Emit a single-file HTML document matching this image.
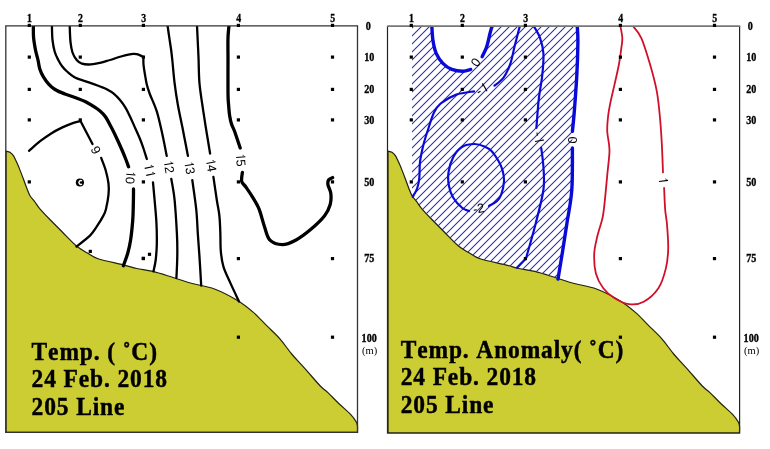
<!DOCTYPE html><html><head><meta charset="utf-8"><style>html,body{margin:0;padding:0;background:#fff;width:770px;height:449px;overflow:hidden}svg{display:block;will-change:transform}text{font-kerning:none}</style></head><body>
<svg width="770" height="449" viewBox="0 0 770 449">
<defs><pattern id="h" patternUnits="userSpaceOnUse" width="8" height="8"><path d="M-2,2 L2,-2 M0,8 L8,0 M6,10 L10,6" stroke="#2a2ab4" stroke-width="1.05"/></pattern><clipPath id="cl"><rect x="6" y="26" width="351.6" height="406"/></clipPath><clipPath id="cr"><rect x="388" y="26" width="351.6" height="406"/></clipPath></defs>
<path d="M6.0,151.2 C6.7,151.4 8.8,151.6 10.0,152.3 C11.2,153.1 12.3,154.0 13.4,155.7 C14.5,157.4 15.6,159.9 16.7,162.3 C17.8,164.7 18.9,167.3 20.0,170.1 C21.1,172.9 22.3,176.0 23.4,179.0 C24.5,182.0 25.6,185.2 26.7,188.0 C27.8,190.8 28.7,193.5 30.0,195.7 C31.3,197.9 32.8,199.1 34.5,201.3 C36.2,203.5 37.5,206.1 40.1,209.1 C42.7,212.1 46.2,215.7 49.9,219.5 C53.6,223.3 57.9,227.6 62.3,232.0 C66.7,236.4 72.3,242.5 76.5,246.0 C80.7,249.5 83.8,250.9 87.4,253.0 C91.0,255.1 92.0,256.8 98.0,258.8 C104.0,260.8 116.9,263.2 123.4,264.8 C129.9,266.4 131.9,267.4 136.8,268.5 C141.7,269.6 146.6,269.8 152.9,271.4 C159.2,273.0 168.0,276.0 174.6,278.0 C181.2,280.0 185.7,281.7 192.3,283.5 C199.0,285.3 207.0,286.2 214.5,289.0 C222.0,291.8 231.0,296.6 237.5,300.5 C244.0,304.4 248.5,308.2 253.4,312.4 C258.3,316.6 262.2,321.2 266.7,325.7 C271.1,330.1 275.9,334.3 280.1,339.1 C284.3,343.9 287.9,349.5 292.1,354.5 C296.3,359.5 300.5,363.6 305.2,368.9 C309.9,374.1 316.5,382.1 320.3,386.0 C324.1,389.9 324.7,389.6 327.9,392.6 C331.1,395.6 335.5,400.4 339.3,404.0 C343.1,407.6 347.8,411.4 350.6,414.4 C353.4,417.4 355.1,419.9 356.3,422.0 C357.5,424.1 357.4,426.2 357.6,427.0 L357.5,432.4 L6.0,432.4 Z" fill="#cccc33" stroke="#202010" stroke-width="1.2"/>
<path d="M29.0,150.8 C30.9,149.2 36.4,144.1 40.1,141.2 C43.8,138.3 47.5,135.7 51.2,133.4 C54.9,131.1 58.7,129.2 62.4,127.4 C66.1,125.7 70.5,124.0 73.5,122.9 C76.5,121.9 79.3,121.4 80.5,121.1 M80.5,121.0 L92.5,144.0 M101.2,157.9 C101.9,159.9 104.4,165.7 105.6,170.0 C106.8,174.3 108.0,179.4 108.5,183.5 C109.0,187.6 108.9,190.3 108.5,194.6 C108.1,198.8 106.8,205.5 106.0,209.0 C105.2,212.5 105.0,212.7 103.4,215.6 C101.9,218.5 98.9,223.4 96.7,226.7 C94.5,230.0 93.4,232.3 90.0,235.6 C86.6,238.9 78.8,244.7 76.5,246.5" fill="none" stroke="#000" stroke-width="2.3" stroke-linecap="round" stroke-linejoin="round" clip-path="url(#cl)"/>
<path d="M33.4,25.4 C33.4,27.5 33.2,33.7 33.6,37.8 C34.0,41.9 34.8,46.3 35.5,50.0 C36.2,53.7 37.3,56.9 38.0,60.0 C38.7,63.1 38.9,66.1 39.8,68.9 C40.7,71.7 41.9,74.4 43.4,76.9 C44.9,79.4 46.8,82.0 48.7,84.1 C50.6,86.2 52.3,87.8 55.0,89.5 C57.7,91.2 61.7,92.7 65.0,94.0 C68.3,95.3 71.7,96.2 75.0,97.5 C78.3,98.8 82.3,100.2 85.1,101.5 C87.9,102.8 89.5,103.9 92.0,105.5 C94.5,107.1 97.7,109.1 100.0,111.0 C102.3,112.9 103.6,114.0 105.6,117.0 C107.6,120.0 110.2,125.2 112.2,129.0 C114.2,132.8 115.9,136.5 117.5,140.0 C119.1,143.5 120.6,146.8 122.0,150.0 C123.4,153.2 124.6,156.2 125.7,159.0 C126.8,161.8 128.1,165.5 128.6,166.8 M133.5,189.0 C133.5,191.7 133.5,199.5 133.3,205.0 C133.2,210.5 133.1,216.2 132.6,222.0 C132.1,227.8 131.4,234.8 130.6,240.0 C129.8,245.2 129.0,248.7 127.8,253.0 C126.6,257.3 124.1,263.6 123.4,265.7" fill="none" stroke="#000" stroke-width="3.3" stroke-linecap="round" stroke-linejoin="round" clip-path="url(#cl)"/>
<path d="M51.9,25.4 C52.0,27.8 52.0,35.6 52.5,40.0 C53.0,44.4 53.8,48.7 54.8,52.0 C55.8,55.3 57.1,57.6 58.3,60.0 C59.5,62.4 60.6,64.3 62.1,66.2 C63.6,68.1 64.9,69.7 67.0,71.5 C69.1,73.3 71.8,75.8 74.5,77.3 C77.2,78.8 80.4,79.5 83.4,80.6 C86.4,81.6 89.5,82.6 92.3,83.6 C95.1,84.6 97.6,85.6 100.0,86.5 C102.4,87.4 104.5,88.0 106.7,89.2 C108.9,90.4 111.2,91.6 113.4,93.4 C115.6,95.2 118.0,97.6 120.0,100.0 C122.0,102.4 123.9,105.0 125.6,107.8 C127.3,110.6 128.4,113.2 130.1,116.7 C131.8,120.2 133.9,125.3 135.6,129.0 C137.2,132.7 138.7,135.8 140.0,139.0 C141.3,142.2 142.4,145.2 143.5,148.5 C144.6,151.8 146.2,157.2 146.8,159.0 M153.0,182.4 C153.3,185.3 154.0,193.3 154.6,200.0 C155.2,206.7 156.0,214.9 156.4,222.3 C156.8,229.7 156.9,238.2 156.8,244.5 C156.7,250.8 156.2,255.5 155.7,260.0 C155.1,264.5 153.9,269.4 153.5,271.3" fill="none" stroke="#000" stroke-width="2.3" stroke-linecap="round" stroke-linejoin="round" clip-path="url(#cl)"/>
<path d="M69.7,25.4 C69.8,28.2 70.0,37.5 70.5,42.0 C71.0,46.5 71.5,49.5 72.5,52.5 C73.5,55.5 75.2,58.2 76.7,60.0 C78.2,61.8 79.2,62.5 81.2,63.3 C83.2,64.0 85.9,64.6 89.0,64.5 C92.1,64.4 96.5,63.5 100.0,62.8 C103.5,62.0 106.5,61.0 110.0,60.0 C113.5,59.0 117.1,57.5 121.0,56.5 C124.9,55.5 130.4,54.2 133.4,53.9 C136.4,53.6 137.3,54.3 139.0,54.8 C140.7,55.3 142.7,56.6 143.4,57.0 M143.4,57.0 C143.4,58.2 143.3,61.8 143.5,64.5 C143.7,67.2 144.2,70.2 144.8,73.5 C145.4,76.8 146.0,81.2 146.8,84.6 C147.6,88.0 148.2,89.6 149.8,94.0 C151.5,98.4 154.6,104.6 156.7,111.2 C158.8,117.8 160.5,126.1 162.2,133.5 C163.9,140.9 165.9,152.1 166.7,155.8 M171.3,179.0 C171.9,182.5 173.7,190.9 174.6,200.0 C175.5,209.1 176.4,224.1 176.9,233.4 C177.4,242.7 177.4,248.3 177.3,255.7 C177.2,263.1 176.6,274.3 176.4,278.0" fill="none" stroke="#000" stroke-width="2.3" stroke-linecap="round" stroke-linejoin="round" clip-path="url(#cl)"/>
<path d="M167.5,25.4 C167.8,27.1 168.4,31.7 169.0,35.6 C169.6,39.5 170.4,44.9 171.0,49.0 C171.6,53.1 171.7,54.5 172.3,60.0 C172.9,65.5 173.6,74.9 174.5,82.3 C175.4,89.7 176.5,97.1 177.8,104.5 C179.1,111.9 180.6,118.2 182.3,126.8 C184.0,135.3 187.0,151.0 187.9,155.8 M192.3,180.2 C193.0,185.2 195.4,201.1 196.3,210.0 C197.2,218.9 197.3,225.8 197.8,233.4 C198.3,241.0 198.8,247.0 199.4,255.7 C200.0,264.4 200.9,280.7 201.2,285.7" fill="none" stroke="#000" stroke-width="2.3" stroke-linecap="round" stroke-linejoin="round" clip-path="url(#cl)"/>
<path d="M197.0,25.4 C197.2,28.9 197.7,40.9 198.0,46.7 C198.3,52.5 198.4,54.1 198.6,60.0 C198.8,65.9 198.8,74.9 199.4,82.3 C200.0,89.7 201.2,97.1 202.3,104.5 C203.4,111.9 204.4,118.6 205.7,126.8 C207.0,135.0 209.4,149.1 210.1,153.5 M213.4,176.8 C214.0,180.7 215.8,193.6 216.8,200.0 C217.8,206.4 218.7,209.7 219.3,215.0 C219.9,220.3 220.1,226.0 220.3,232.0 C220.6,238.0 220.3,245.2 220.8,251.0 C221.3,256.8 221.9,261.6 223.5,266.8 C225.1,272.0 227.5,276.6 230.1,282.4 C232.7,288.2 237.5,298.3 239.0,301.5" fill="none" stroke="#000" stroke-width="2.3" stroke-linecap="round" stroke-linejoin="round" clip-path="url(#cl)"/>
<path d="M229.0,25.4 C228.8,27.5 228.2,32.0 228.0,37.8 C227.8,43.6 228.0,50.7 228.0,60.0 C228.0,69.3 227.9,85.9 228.0,93.4 C228.1,100.9 228.3,101.3 228.6,105.0 C228.9,108.7 229.1,112.3 229.6,115.5 C230.1,118.7 230.6,121.2 231.5,124.0 C232.4,126.8 233.6,128.5 235.0,132.5 C236.4,136.5 239.3,145.4 240.2,148.0 M242.4,172.4 C242.3,173.9 241.1,178.9 241.7,181.3 C242.2,183.7 243.9,184.2 245.7,186.8 C247.5,189.4 250.2,193.2 252.4,196.9 C254.6,200.6 257.1,204.1 259.1,209.1 C261.1,214.1 262.7,221.6 264.5,226.8 C266.3,232.0 267.0,237.2 270.0,240.2 C273.0,243.2 278.0,244.6 282.3,244.6 C286.6,244.6 290.8,242.8 295.6,240.2 C300.4,237.6 306.4,233.1 311.2,229.0 C316.0,224.9 321.4,219.8 324.6,215.7 C327.8,211.6 329.2,208.2 330.2,204.5 C331.2,200.8 331.2,196.7 330.8,193.4 C330.4,190.2 328.4,187.2 328.0,185.0 C327.6,182.8 327.8,181.2 328.6,180.0 C329.4,178.8 331.9,178.0 332.6,177.6" fill="none" stroke="#000" stroke-width="3.3" stroke-linecap="round" stroke-linejoin="round" clip-path="url(#cl)"/>
<g transform="translate(96.0 150.0) rotate(62)"><text x="-3.56" y="0" font-family="Liberation Sans" font-size="12.8" dominant-baseline="central" fill="#000">9</text></g>
<g transform="translate(130.5 176.8) rotate(95)"><path d="M-2.19,4.44 L-2.19,-4.73" stroke="#000" stroke-width="1.09" fill="none"/><path d="M-1.64,-4.73 L-4.30,-2.55 L-4.04,-1.79 L-2.73,-3.45 Z" fill="#000"/><text x="0.00" y="0" font-family="Liberation Sans" font-size="12.8" dominant-baseline="central" fill="#000">0</text></g>
<g transform="translate(149.5 169.6) rotate(78)"><path d="M-2.19,4.44 L-2.19,-4.73" stroke="#000" stroke-width="1.09" fill="none"/><path d="M-1.64,-4.73 L-4.30,-2.55 L-4.04,-1.79 L-2.73,-3.45 Z" fill="#000"/><path d="M4.93,4.44 L4.93,-4.73" stroke="#000" stroke-width="1.09" fill="none"/><path d="M5.47,-4.73 L2.82,-2.55 L3.07,-1.79 L4.38,-3.45 Z" fill="#000"/></g>
<g transform="translate(169.0 166.2) rotate(80)"><path d="M-2.19,4.44 L-2.19,-4.73" stroke="#000" stroke-width="1.09" fill="none"/><path d="M-1.64,-4.73 L-4.30,-2.55 L-4.04,-1.79 L-2.73,-3.45 Z" fill="#000"/><text x="0.00" y="0" font-family="Liberation Sans" font-size="12.8" dominant-baseline="central" fill="#000">2</text></g>
<g transform="translate(189.6 167.2) rotate(80)"><path d="M-2.19,4.44 L-2.19,-4.73" stroke="#000" stroke-width="1.09" fill="none"/><path d="M-1.64,-4.73 L-4.30,-2.55 L-4.04,-1.79 L-2.73,-3.45 Z" fill="#000"/><text x="0.00" y="0" font-family="Liberation Sans" font-size="12.8" dominant-baseline="central" fill="#000">3</text></g>
<g transform="translate(211.2 164.8) rotate(80)"><path d="M-2.19,4.44 L-2.19,-4.73" stroke="#000" stroke-width="1.09" fill="none"/><path d="M-1.64,-4.73 L-4.30,-2.55 L-4.04,-1.79 L-2.73,-3.45 Z" fill="#000"/><text x="0.00" y="0" font-family="Liberation Sans" font-size="12.8" dominant-baseline="central" fill="#000">4</text></g>
<g transform="translate(240.8 159.3) rotate(85)"><path d="M-2.19,4.44 L-2.19,-4.73" stroke="#000" stroke-width="1.09" fill="none"/><path d="M-1.64,-4.73 L-4.30,-2.55 L-4.04,-1.79 L-2.73,-3.45 Z" fill="#000"/><text x="0.00" y="0" font-family="Liberation Sans" font-size="12.8" dominant-baseline="central" fill="#000">5</text></g>
<path d="M388.0,151.2 C388.7,151.4 390.8,151.6 392.0,152.3 C393.2,153.1 394.3,154.0 395.4,155.7 C396.5,157.4 397.6,159.9 398.7,162.3 C399.8,164.7 400.9,167.3 402.0,170.1 C403.1,172.9 404.3,176.0 405.4,179.0 C406.5,182.0 407.6,185.2 408.7,188.0 C409.8,190.8 410.7,193.5 412.0,195.7 C413.3,197.9 414.8,199.1 416.5,201.3 C418.2,203.5 419.5,206.1 422.1,209.1 C424.7,212.1 428.2,215.7 431.9,219.5 C435.6,223.3 439.9,227.6 444.3,232.0 C448.7,236.4 454.3,242.5 458.5,246.0 C462.7,249.5 465.8,250.9 469.4,253.0 C473.0,255.1 474.0,256.8 480.0,258.8 C486.0,260.8 498.9,263.2 505.4,264.8 C511.9,266.4 513.9,267.4 518.8,268.5 C523.7,269.6 528.6,269.8 534.9,271.4 C541.2,273.0 550.0,276.0 556.6,278.0 C563.2,280.0 567.6,281.7 574.3,283.5 C580.9,285.3 589.0,286.2 596.5,289.0 C604.0,291.8 613.0,296.6 619.5,300.5 C626.0,304.4 630.5,308.2 635.4,312.4 C640.3,316.6 644.2,321.2 648.7,325.7 C653.2,330.1 657.9,334.3 662.1,339.1 C666.3,343.9 669.9,349.5 674.1,354.5 C678.3,359.5 682.5,363.6 687.2,368.9 C691.9,374.1 698.5,382.1 702.3,386.0 C706.1,389.9 706.7,389.6 709.9,392.6 C713.1,395.6 717.5,400.4 721.3,404.0 C725.1,407.6 729.8,411.4 732.6,414.4 C735.4,417.4 737.1,419.9 738.3,422.0 C739.5,424.1 739.4,426.2 739.6,427.0 L739.5,433.0 L388.0,433.0 Z" fill="#cccc33" stroke="#202010" stroke-width="1.2"/>
<path d="M412,25.4 L431.8,25.4 C432.0,27.8 432.2,35.3 432.9,40.0 C433.6,44.7 434.5,49.5 436.2,53.4 C437.9,57.3 440.3,60.7 442.9,63.4 C445.5,66.1 448.4,68.1 451.8,69.4 C455.2,70.7 459.9,71.2 463.0,71.2 C466.1,71.2 468.4,70.7 470.7,69.4 C472.9,68.1 474.6,65.6 476.5,63.5 C478.4,61.4 480.5,59.5 482.2,56.7 C483.9,53.9 485.4,50.6 486.7,46.7 C488.0,42.8 489.1,37.0 490.0,33.4 C490.9,29.8 491.9,26.7 492.3,25.4 L577.2,25.4 L577.2,25.4 C577.3,28.2 578.0,33.9 577.9,42.3 C577.8,50.7 577.4,64.6 576.8,75.7 C576.2,86.8 575.2,99.8 574.5,109.0 C573.8,118.2 572.8,126.0 572.4,131.2 C572.0,136.4 572.4,137.2 572.4,140.0 C572.4,142.8 572.5,139.6 572.4,147.9 C572.3,156.2 572.7,177.4 571.8,190.0 C570.9,202.6 568.5,213.0 566.9,223.4 C565.3,233.8 563.9,243.1 562.4,252.4 C560.9,261.7 558.7,274.7 558.0,279.1 L556.6,278.0 L534.9,271.4 L518.8,268.5 L505.4,264.8 L480.0,258.8 L469.4,253.0 L458.5,246.0 L444.3,232.0 L431.9,219.5 L422.1,209.1 L416.5,201.3 L412.0,195.7 L412,197 Z" fill="url(#h)" stroke="none"/>
<path d="M431.8,25.4 C432.0,27.8 432.2,35.3 432.9,40.0 C433.6,44.7 434.5,49.5 436.2,53.4 C437.9,57.3 440.3,60.7 442.9,63.4 C445.5,66.1 448.4,68.1 451.8,69.4 C455.2,70.7 459.9,71.2 463.0,71.2 C466.1,71.2 469.4,69.7 470.7,69.4 M482.2,56.7 C482.9,55.0 485.4,50.6 486.7,46.7 C488.0,42.8 489.1,37.0 490.0,33.4 C490.9,29.8 491.9,26.7 492.3,25.4 M577.2,25.4 C577.3,28.2 578.0,33.9 577.9,42.3 C577.8,50.7 577.4,64.6 576.8,75.7 C576.2,86.8 575.2,99.8 574.5,109.0 C573.8,118.2 572.8,127.5 572.4,131.2 M572.4,147.9 C572.3,154.9 572.7,177.4 571.8,190.0 C570.9,202.6 568.5,213.0 566.9,223.4 C565.3,233.8 563.9,243.1 562.4,252.4 C560.9,261.7 558.7,274.7 558.0,279.1" fill="none" stroke="#0a0ad8" stroke-width="3.4" stroke-linecap="round" clip-path="url(#cr)"/>
<path d="M412.8,196.9 C413.6,195.4 416.2,191.2 417.3,188.0 C418.4,184.8 418.9,182.3 419.3,178.0 C419.8,173.7 419.3,167.6 420.0,162.0 C420.7,156.4 422.1,150.1 423.5,144.5 C424.9,138.9 426.6,133.8 428.4,128.5 C430.1,123.2 431.9,116.7 434.0,112.5 C436.1,108.3 437.0,106.5 440.7,103.5 C444.4,100.5 450.8,96.6 456.3,94.6 C461.9,92.6 471.1,91.8 474.0,91.3 M494.5,85.7 C496.0,84.4 500.8,81.4 503.4,77.9 C506.0,74.4 508.2,69.7 510.1,64.5 C512.0,59.3 513.2,51.9 514.5,46.7 C515.8,41.5 517.0,37.0 517.9,33.4 C518.8,29.8 519.7,26.7 520.1,25.4 M533.3,25.4 C534.4,27.5 538.3,33.1 540.0,37.8 C541.7,42.5 543.0,47.1 543.4,53.4 C543.8,59.7 543.0,68.3 542.2,75.7 C541.5,83.1 539.9,89.3 538.9,98.0 C537.9,106.7 536.8,122.8 536.4,127.8 M541.2,147.9 C541.6,151.1 543.0,159.8 543.4,166.8 C543.8,173.8 544.7,180.6 543.4,190.0 C542.1,199.4 538.6,212.0 535.7,223.4 C532.8,234.8 527.6,252.6 526.0,258.4 M526.0,258.4 L517.1,267.7 M469.0,211.0 C467.9,210.5 464.9,210.2 462.3,208.0 C459.7,205.8 455.6,201.7 453.4,198.0 C451.2,194.3 449.7,190.0 448.9,185.7 C448.1,181.4 447.8,177.2 448.5,172.4 C449.2,167.6 451.1,161.1 453.4,156.8 C455.7,152.5 458.8,148.8 462.3,146.7 C465.8,144.6 470.8,144.0 474.5,144.0 C478.2,144.0 481.7,145.3 484.5,146.5 C487.3,147.7 489.2,148.6 491.5,151.0 C493.8,153.4 496.6,157.8 498.5,161.0 C500.4,164.2 501.7,167.1 502.6,170.5 C503.5,173.9 504.2,177.3 504.0,181.3 C503.8,185.3 502.4,191.3 501.2,194.6 C500.0,197.9 498.8,199.4 496.8,201.3 C494.8,203.2 490.3,205.2 489.0,206.0" fill="none" stroke="#0a0ad8" stroke-width="2.2" stroke-linecap="round" clip-path="url(#cr)"/>
<path d="M620.2,25.4 C620.6,27.5 622.1,33.9 622.3,37.8 C622.5,41.7 621.8,44.5 621.2,49.0 C620.6,53.5 620.0,58.6 618.9,64.5 C617.8,70.4 616.0,77.9 614.5,84.6 C613.0,91.3 611.1,98.8 610.0,104.6 C608.9,110.3 608.2,114.5 607.8,119.1 C607.3,123.7 607.0,127.1 607.3,132.3 C607.6,137.5 609.5,143.1 609.5,150.1 C609.5,157.1 608.2,164.8 607.3,174.6 C606.4,184.4 604.8,201.6 603.9,209.1 C603.0,216.6 603.2,215.0 602.1,219.6 C601.0,224.2 598.5,231.1 597.2,236.8 C595.9,242.5 594.4,247.8 594.2,253.9 C594.0,260.0 594.4,267.8 595.9,273.5 C597.4,279.2 600.2,284.1 603.3,288.2 C606.4,292.3 610.0,295.3 614.3,298.0 C618.6,300.7 624.1,303.6 629.0,304.2 C633.9,304.8 638.8,304.4 643.7,301.7 C648.6,299.0 654.7,293.7 658.4,288.2 C662.1,282.7 664.2,275.1 665.8,268.6 C667.4,262.1 668.0,256.4 668.2,249.0 C668.4,241.7 667.5,231.0 667.0,224.5 C666.5,218.0 665.7,216.1 665.2,210.0 C664.7,203.9 664.3,191.7 664.1,188.0 M663.0,172.4 C662.8,167.6 662.3,152.3 661.8,143.4 C661.3,134.5 660.9,127.8 660.1,119.1 C659.3,110.4 658.5,100.4 656.8,91.3 C655.1,82.2 652.7,73.4 650.1,64.5 C647.5,55.6 644.2,44.3 641.2,37.8 C638.2,31.3 633.8,27.5 632.3,25.4" fill="none" stroke="#d0102a" stroke-width="1.8" stroke-linecap="round" clip-path="url(#cr)"/>
<g transform="translate(475.5 62.3) rotate(-55)"><text x="-3.56" y="0" font-family="Liberation Sans" font-size="12.8" dominant-baseline="central" fill="#000">0</text></g>
<g transform="translate(481.8 89.2) rotate(-30)"><text x="-5.69" y="0" font-family="Liberation Sans" font-size="12.8" dominant-baseline="central" fill="#000">-</text><path d="M3.50,4.44 L3.50,-4.73" stroke="#000" stroke-width="1.09" fill="none"/><path d="M4.04,-4.73 L1.39,-2.55 L1.64,-1.79 L2.96,-3.45 Z" fill="#000"/></g>
<g transform="translate(538.8 137.3) rotate(80)"><text x="-5.69" y="0" font-family="Liberation Sans" font-size="12.8" dominant-baseline="central" fill="#000">-</text><path d="M3.50,4.44 L3.50,-4.73" stroke="#000" stroke-width="1.09" fill="none"/><path d="M4.04,-4.73 L1.39,-2.55 L1.64,-1.79 L2.96,-3.45 Z" fill="#000"/></g>
<g transform="translate(572.4 140.1) rotate(90)"><text x="-3.56" y="0" font-family="Liberation Sans" font-size="12.8" dominant-baseline="central" fill="#000">0</text></g>
<g transform="translate(478.5 208.3) rotate(-10)"><text x="-5.69" y="0" font-family="Liberation Sans" font-size="12.8" dominant-baseline="central" fill="#000">-</text><text x="-1.43" y="0" font-family="Liberation Sans" font-size="12.8" dominant-baseline="central" fill="#000">2</text></g>
<g transform="translate(663.2 179.6) rotate(83)"><path d="M1.37,4.44 L1.37,-4.73" stroke="#000" stroke-width="1.09" fill="none"/><path d="M1.91,-4.73 L-0.74,-2.55 L-0.49,-1.79 L0.83,-3.45 Z" fill="#000"/></g>
<path d="M5.8,25.9 L357.5,25.9 L357.5,432.4 L5.8,432.4 Z" fill="none" stroke="#333" stroke-width="1.3"/>
<text transform="translate(29.5 22.3) scale(0.82 1)" font-family="Liberation Serif" font-weight="bold" font-size="12" text-anchor="middle" stroke="#000" stroke-width="0.35">1</text>
<text transform="translate(80.5 22.3) scale(0.82 1)" font-family="Liberation Serif" font-weight="bold" font-size="12" text-anchor="middle" stroke="#000" stroke-width="0.35">2</text>
<text transform="translate(143.6 22.3) scale(0.82 1)" font-family="Liberation Serif" font-weight="bold" font-size="12" text-anchor="middle" stroke="#000" stroke-width="0.35">3</text>
<text transform="translate(238.6 22.3) scale(0.82 1)" font-family="Liberation Serif" font-weight="bold" font-size="12" text-anchor="middle" stroke="#000" stroke-width="0.35">4</text>
<text transform="translate(332.7 22.3) scale(0.82 1)" font-family="Liberation Serif" font-weight="bold" font-size="12" text-anchor="middle" stroke="#000" stroke-width="0.35">5</text>
<text transform="translate(368.4 29.9) scale(0.88 1)" font-family="Liberation Serif" font-weight="bold" font-size="11.5" text-anchor="middle" stroke="#000" stroke-width="0.35">0</text>
<text transform="translate(369.2 60.7) scale(0.88 1)" font-family="Liberation Serif" font-weight="bold" font-size="11.5" text-anchor="middle" stroke="#000" stroke-width="0.35">10</text>
<text transform="translate(369.2 93.0) scale(0.88 1)" font-family="Liberation Serif" font-weight="bold" font-size="11.5" text-anchor="middle" stroke="#000" stroke-width="0.35">20</text>
<text transform="translate(369.2 123.5) scale(0.88 1)" font-family="Liberation Serif" font-weight="bold" font-size="11.5" text-anchor="middle" stroke="#000" stroke-width="0.35">30</text>
<text transform="translate(369.2 185.5) scale(0.88 1)" font-family="Liberation Serif" font-weight="bold" font-size="11.5" text-anchor="middle" stroke="#000" stroke-width="0.35">50</text>
<text transform="translate(369.2 262.2) scale(0.88 1)" font-family="Liberation Serif" font-weight="bold" font-size="11.5" text-anchor="middle" stroke="#000" stroke-width="0.35">75</text>
<text transform="translate(369.2 341.6) scale(0.88 1)" font-family="Liberation Serif" font-weight="bold" font-size="11.5" text-anchor="middle" stroke="#000" stroke-width="0.35">100</text>
<text x="369.6" y="353.5" font-family="Liberation Serif" font-size="10.5" text-anchor="middle">(m)</text>
<path d="M739.6,26.1 L739.6,433 L387.5,433 L387.5,26.1" fill="none" stroke="#222" stroke-width="1.2"/>
<line x1="387" y1="26.1" x2="740.2" y2="26.1" stroke="#777" stroke-width="1.7"/>
<text transform="translate(411.5 22.3) scale(0.82 1)" font-family="Liberation Serif" font-weight="bold" font-size="12" text-anchor="middle" stroke="#000" stroke-width="0.35">1</text>
<text transform="translate(462.5 22.3) scale(0.82 1)" font-family="Liberation Serif" font-weight="bold" font-size="12" text-anchor="middle" stroke="#000" stroke-width="0.35">2</text>
<text transform="translate(525.6 22.3) scale(0.82 1)" font-family="Liberation Serif" font-weight="bold" font-size="12" text-anchor="middle" stroke="#000" stroke-width="0.35">3</text>
<text transform="translate(620.6 22.3) scale(0.82 1)" font-family="Liberation Serif" font-weight="bold" font-size="12" text-anchor="middle" stroke="#000" stroke-width="0.35">4</text>
<text transform="translate(714.7 22.3) scale(0.82 1)" font-family="Liberation Serif" font-weight="bold" font-size="12" text-anchor="middle" stroke="#000" stroke-width="0.35">5</text>
<text transform="translate(750.4 29.9) scale(0.88 1)" font-family="Liberation Serif" font-weight="bold" font-size="11.5" text-anchor="middle" stroke="#000" stroke-width="0.35">0</text>
<text transform="translate(751.2 60.7) scale(0.88 1)" font-family="Liberation Serif" font-weight="bold" font-size="11.5" text-anchor="middle" stroke="#000" stroke-width="0.35">10</text>
<text transform="translate(751.2 93.0) scale(0.88 1)" font-family="Liberation Serif" font-weight="bold" font-size="11.5" text-anchor="middle" stroke="#000" stroke-width="0.35">20</text>
<text transform="translate(751.2 123.5) scale(0.88 1)" font-family="Liberation Serif" font-weight="bold" font-size="11.5" text-anchor="middle" stroke="#000" stroke-width="0.35">30</text>
<text transform="translate(751.2 185.5) scale(0.88 1)" font-family="Liberation Serif" font-weight="bold" font-size="11.5" text-anchor="middle" stroke="#000" stroke-width="0.35">50</text>
<text transform="translate(751.2 262.2) scale(0.88 1)" font-family="Liberation Serif" font-weight="bold" font-size="11.5" text-anchor="middle" stroke="#000" stroke-width="0.35">75</text>
<text transform="translate(751.2 341.6) scale(0.88 1)" font-family="Liberation Serif" font-weight="bold" font-size="11.5" text-anchor="middle" stroke="#000" stroke-width="0.35">100</text>
<text x="751.6" y="353.5" font-family="Liberation Serif" font-size="10.5" text-anchor="middle">(m)</text>
<rect x="27.7" y="23.8" width="3.2" height="3.2" fill="#000"/>
<rect x="27.7" y="55.5" width="3.2" height="3.2" fill="#000"/>
<rect x="27.7" y="87.8" width="3.2" height="3.2" fill="#000"/>
<rect x="27.7" y="118.3" width="3.2" height="3.2" fill="#000"/>
<rect x="27.7" y="180.3" width="3.2" height="3.2" fill="#000"/>
<rect x="78.7" y="23.8" width="3.2" height="3.2" fill="#000"/>
<rect x="78.7" y="55.5" width="3.2" height="3.2" fill="#000"/>
<rect x="78.7" y="87.8" width="3.2" height="3.2" fill="#000"/>
<rect x="78.7" y="118.3" width="3.2" height="3.2" fill="#000"/>
<rect x="141.8" y="23.8" width="3.2" height="3.2" fill="#000"/>
<rect x="141.8" y="55.5" width="3.2" height="3.2" fill="#000"/>
<rect x="141.8" y="87.8" width="3.2" height="3.2" fill="#000"/>
<rect x="141.8" y="118.3" width="3.2" height="3.2" fill="#000"/>
<rect x="141.8" y="180.3" width="3.2" height="3.2" fill="#000"/>
<rect x="141.8" y="257.0" width="3.2" height="3.2" fill="#000"/>
<rect x="236.8" y="23.8" width="3.2" height="3.2" fill="#000"/>
<rect x="236.8" y="55.5" width="3.2" height="3.2" fill="#000"/>
<rect x="236.8" y="87.8" width="3.2" height="3.2" fill="#000"/>
<rect x="236.8" y="118.3" width="3.2" height="3.2" fill="#000"/>
<rect x="236.8" y="180.3" width="3.2" height="3.2" fill="#000"/>
<rect x="236.8" y="257.0" width="3.2" height="3.2" fill="#000"/>
<rect x="236.8" y="335.6" width="3.2" height="3.2" fill="#000"/>
<rect x="330.9" y="23.8" width="3.2" height="3.2" fill="#000"/>
<rect x="330.9" y="55.5" width="3.2" height="3.2" fill="#000"/>
<rect x="330.9" y="87.8" width="3.2" height="3.2" fill="#000"/>
<rect x="330.9" y="118.3" width="3.2" height="3.2" fill="#000"/>
<rect x="330.9" y="180.3" width="3.2" height="3.2" fill="#000"/>
<rect x="330.9" y="257.0" width="3.2" height="3.2" fill="#000"/>
<rect x="330.9" y="335.6" width="3.2" height="3.2" fill="#000"/>
<rect x="88.7" y="249.8" width="3.2" height="3.2" fill="#000"/>
<rect x="141.7" y="256.7" width="3.2" height="3.2" fill="#000"/>
<rect x="147.9" y="252.7" width="3.2" height="3.2" fill="#000"/>
<rect x="409.7" y="23.8" width="3.2" height="3.2" fill="#000"/>
<rect x="409.7" y="55.5" width="3.2" height="3.2" fill="#000"/>
<rect x="409.7" y="87.8" width="3.2" height="3.2" fill="#000"/>
<rect x="409.7" y="118.3" width="3.2" height="3.2" fill="#000"/>
<rect x="409.7" y="180.3" width="3.2" height="3.2" fill="#000"/>
<rect x="460.7" y="23.8" width="3.2" height="3.2" fill="#000"/>
<rect x="460.7" y="55.5" width="3.2" height="3.2" fill="#000"/>
<rect x="460.7" y="87.8" width="3.2" height="3.2" fill="#000"/>
<rect x="460.7" y="118.3" width="3.2" height="3.2" fill="#000"/>
<rect x="460.7" y="180.3" width="3.2" height="3.2" fill="#000"/>
<rect x="523.8" y="23.8" width="3.2" height="3.2" fill="#000"/>
<rect x="523.8" y="55.5" width="3.2" height="3.2" fill="#000"/>
<rect x="523.8" y="87.8" width="3.2" height="3.2" fill="#000"/>
<rect x="523.8" y="118.3" width="3.2" height="3.2" fill="#000"/>
<rect x="523.8" y="180.3" width="3.2" height="3.2" fill="#000"/>
<rect x="523.8" y="257.0" width="3.2" height="3.2" fill="#000"/>
<rect x="618.8" y="23.8" width="3.2" height="3.2" fill="#000"/>
<rect x="618.8" y="55.5" width="3.2" height="3.2" fill="#000"/>
<rect x="618.8" y="87.8" width="3.2" height="3.2" fill="#000"/>
<rect x="618.8" y="118.3" width="3.2" height="3.2" fill="#000"/>
<rect x="618.8" y="180.3" width="3.2" height="3.2" fill="#000"/>
<rect x="618.8" y="257.0" width="3.2" height="3.2" fill="#000"/>
<rect x="618.8" y="335.6" width="3.2" height="3.2" fill="#000"/>
<rect x="712.9" y="23.8" width="3.2" height="3.2" fill="#000"/>
<rect x="712.9" y="55.5" width="3.2" height="3.2" fill="#000"/>
<rect x="712.9" y="87.8" width="3.2" height="3.2" fill="#000"/>
<rect x="712.9" y="118.3" width="3.2" height="3.2" fill="#000"/>
<rect x="712.9" y="180.3" width="3.2" height="3.2" fill="#000"/>
<rect x="712.9" y="257.0" width="3.2" height="3.2" fill="#000"/>
<rect x="712.9" y="335.6" width="3.2" height="3.2" fill="#000"/>
<circle cx="79.9" cy="182.5" r="4.1" fill="#000"/><path d="M82.0,181.0 A1.9,1.9 0 1 0 82.0,184.0" fill="none" stroke="#fff" stroke-width="1.4"/>
<text transform="translate(31.6 360.0) scale(0.920 1)" font-family="Liberation Serif" font-weight="bold" font-size="25.5" letter-spacing="0.95" fill="#000" stroke="#000" stroke-width="0.45">Temp. ( ˚C)</text>
<text transform="translate(31.6 387.3) scale(0.920 1)" font-family="Liberation Serif" font-weight="bold" font-size="25.5" letter-spacing="0.95" fill="#000" stroke="#000" stroke-width="0.45">24 Feb. 2018</text>
<text transform="translate(31.6 414.6) scale(0.920 1)" font-family="Liberation Serif" font-weight="bold" font-size="25.5" letter-spacing="0.95" fill="#000" stroke="#000" stroke-width="0.45">205 Line</text>
<text transform="translate(400.7 358.1) scale(0.920 1)" font-family="Liberation Serif" font-weight="bold" font-size="25.5" letter-spacing="0.95" fill="#000" stroke="#000" stroke-width="0.45">Temp. Anomaly( ˚C)</text>
<text transform="translate(400.7 385.4) scale(0.920 1)" font-family="Liberation Serif" font-weight="bold" font-size="25.5" letter-spacing="0.95" fill="#000" stroke="#000" stroke-width="0.45">24 Feb. 2018</text>
<text transform="translate(400.7 412.7) scale(0.920 1)" font-family="Liberation Serif" font-weight="bold" font-size="25.5" letter-spacing="0.95" fill="#000" stroke="#000" stroke-width="0.45">205 Line</text>
</svg></body></html>
